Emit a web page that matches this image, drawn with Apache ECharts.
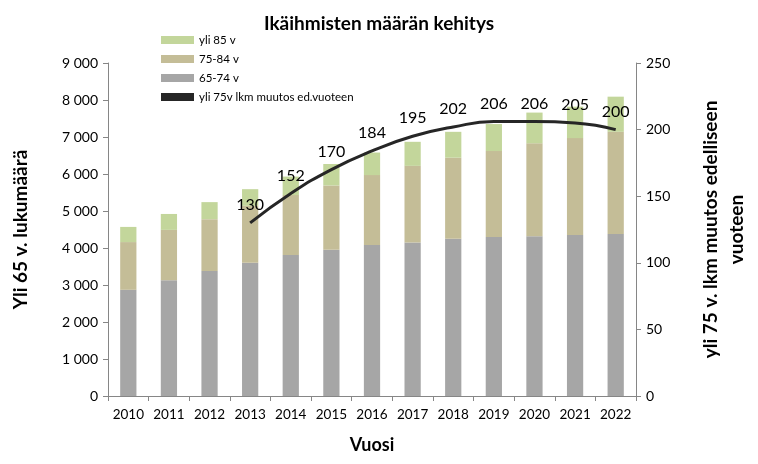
<!DOCTYPE html>
<html><head><meta charset="utf-8">
<script src="https://cdn.jsdelivr.net/npm/echarts@6/dist/echarts.min.js"></script>
<style>html,body{margin:0;padding:0;background:#fff}#c{width:758px;height:464px}</style>
</head><body><div id="c"></div>
<script>
const years = ['2010','2011','2012','2013','2014','2015','2016','2017','2018','2019','2020','2021','2022'];
// stacked segment values (persons)
const age65_74 = [2870, 3130, 3380, 3600, 3810, 3950, 4080, 4150, 4250, 4300, 4320, 4350, 4380];
const age75_84 = [1290, 1360, 1400, 1540, 1620, 1740, 1890, 2070, 2190, 2320, 2510, 2620, 2760];
const age85p   = [ 410,  430,  460,  450,  500,  580,  610,  650,  700,  730,  830,  850,  950];
const change75 = ['-', '-', '-', 130, 152, 170, 184, 195, 202, 206, 206, 205, 200];
const leftTicks = [0, 9000, 1000];
const rightTicks = [0, 250, 50];

const font = 'Lato, "Open Sans", sans-serif';
const fmt = v => v >= 1000 ? Math.floor(v/1000) + ' ' + String(v%1000).padStart(3,'0') : String(v);

const chart = echarts.init(document.getElementById('c'), null, {renderer:'canvas'});
chart.setOption({
  animation:false,
  backgroundColor:'#fff',
  textStyle:{fontFamily:font},
  title:{text:'Ikäihmisten määrän kehitys', left:'center', top:9,
    textStyle:{fontFamily:font, fontWeight:'bold', fontSize:19, color:'#000'}},
  legend:{orient:'vertical', left:156, top:29, itemGap:7, itemWidth:33, itemHeight:8,
    textStyle:{fontFamily:font, fontSize:11.5, color:'#000'},
    data:[{name:'yli 85 v', icon:'rect'},{name:'75-84 v', icon:'rect'},{name:'65-74 v', icon:'rect'},
      {name:'yli 75v lkm muutos ed.vuoteen', icon:'rect', itemStyle:{color:'#262626'}}]},
  grid:{left:108, right:106, top:63, bottom:68, containLabel:false},
  xAxis:{type:'category', data:years,
    axisLine:{lineStyle:{color:'#868686'}},
    axisTick:{show:true, alignWithLabel:false, length:5, lineStyle:{color:'#868686'}},
    axisLabel:{fontFamily:font, fontSize:13.5, color:'#000', margin:12, interval:0},
    name:'Vuosi', nameLocation:'middle', nameGap:40,
    nameTextStyle:{fontFamily:font, fontWeight:'bold', fontSize:18, color:'#000'}},
  yAxis:[
    {type:'value', min:leftTicks[0], max:leftTicks[1], interval:leftTicks[2],
      splitLine:{show:false},
      axisLine:{show:true, lineStyle:{color:'#868686'}},
      axisTick:{show:true, length:5, lineStyle:{color:'#868686'}},
      axisLabel:{fontFamily:font, fontSize:14, color:'#000', margin:10, formatter:fmt},
      name:'Yli 65 v. lukumäärä', nameLocation:'middle', nameRotate:90, nameGap:78,
      nameTextStyle:{fontFamily:font, fontWeight:'bold', fontSize:19, color:'#000'}},
    {type:'value', min:rightTicks[0], max:rightTicks[1], interval:rightTicks[2],
      splitLine:{show:false},
      axisLine:{show:true, lineStyle:{color:'#868686'}},
      axisTick:{show:true, length:5, lineStyle:{color:'#868686'}},
      axisLabel:{fontFamily:font, fontSize:14, color:'#000', margin:10},
      name:'yli 75 v. lkm muutos edelliseen\nvuoteen', nameLocation:'middle', nameRotate:90, nameGap:62,
      nameTextStyle:{fontFamily:font, fontWeight:'bold', fontSize:19, color:'#000', lineHeight:26, align:'center'}}
  ],
  series:[
    {name:'65-74 v', type:'bar', stack:'a', data:age65_74, barWidth:'40%', itemStyle:{color:'#a6a6a6'}},
    {name:'75-84 v', type:'bar', stack:'a', data:age75_84, itemStyle:{color:'#c4bd97'}},
    {name:'yli 85 v', type:'bar', stack:'a', data:age85p, itemStyle:{color:'#c3d69b'}},
    {name:'yli 75v lkm muutos ed.vuoteen', type:'line', yAxisIndex:1, data:change75, smooth:true,
      showSymbol:true, symbol:'circle', symbolSize:0.01, lineStyle:{color:'#262626', width:3}, itemStyle:{color:'#262626'},
      label:{show:true, position:'top', distance:10, fontFamily:font, fontSize:16, color:'#000'}}
  ]
});
</script></body></html>
